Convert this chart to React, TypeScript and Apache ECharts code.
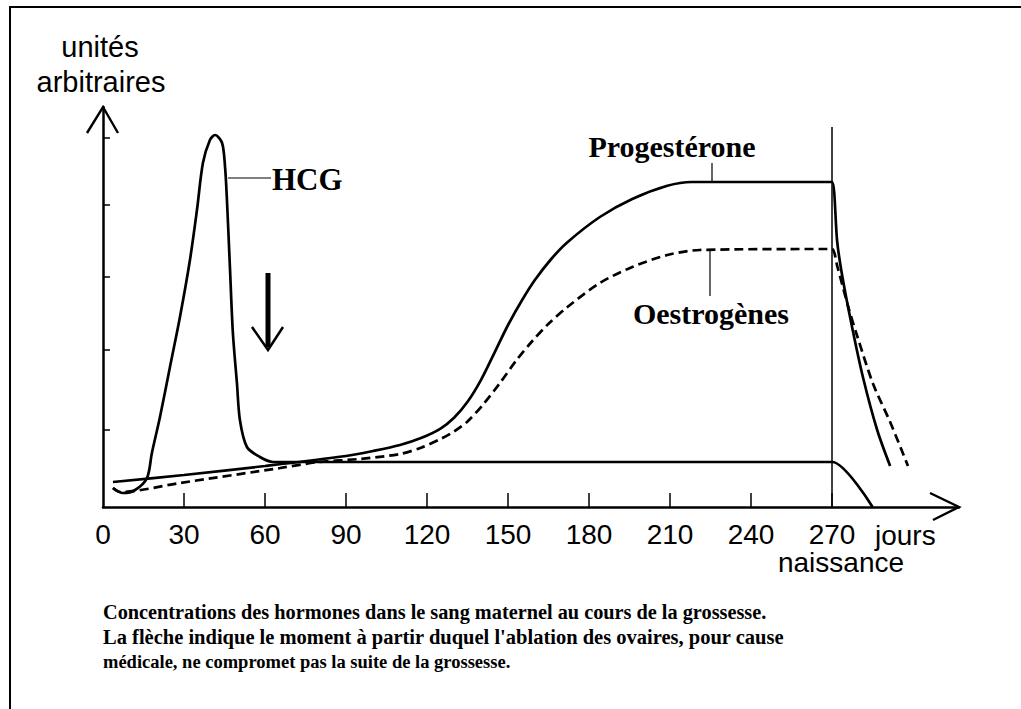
import React, { useEffect, useRef } from "react";
import * as echarts from "echarts";

// ---- data (days of pregnancy, arbitrary units 0-100) ----
const dayLabels = [0, 30, 60, 90, 120, 150, 180, 210, 240, 270];
const dayTicks = [30, 60, 90, 120, 150, 180, 210, 240, 270];
const levelTicks = [19.25, 39.25, 57.5, 75.5, 92.25];

const hcgDays = [3.7, 7.4, 11.9, 16.3, 18.1, 21.1, 24.8, 28.5, 32.2, 34.8, 37.0, 39.6, 41.5, 44.1, 45.2, 45.9, 47.0, 48.1, 49.6, 50.7, 53.3, 58.1, 63, 268, 270, 285];
const hcgLevels = [4.75, 3.5, 4.25, 7.25, 13.5, 22.5, 35, 47.5, 61.75, 74.25, 86, 91.75, 93, 91, 85, 76.75, 60, 43.5, 31, 21.75, 15, 12.5, 11.25, 11.25, 11.25, 0];

const progDays = [3.7, 30, 60, 90, 100, 110, 118, 125, 130, 135, 140, 145, 150, 155, 160, 166, 172, 184, 196, 209, 218, 268, 270, 271.9, 273.7, 277.4, 281.5, 286.7, 291.5];
const progLevels = [6.25, 8, 10.25, 12.75, 14, 15.5, 17.3, 19.6, 22.3, 26.3, 31.8, 38.6, 45.5, 51.5, 56.8, 62, 66.2, 72.5, 77, 80.3, 81.25, 81.25, 81.25, 66.3, 58, 45, 32.25, 19.25, 10.25];

const oestDays = [3.7, 6.3, 28.5, 65.6, 80, 95, 110, 118, 125, 130, 135, 141, 147, 153, 159, 165, 172, 184, 196, 209, 221, 268, 270, 272, 276, 279.3, 285.2, 291.5, 298.1];
const oestLevels = [4.75, 3.75, 6, 9.75, 11.25, 12, 13.25, 14.9, 17, 18.9, 21.4, 25.8, 31, 36.6, 41.5, 45.8, 50, 56, 60, 63, 64.25, 64.5, 64.5, 60, 50, 42.75, 30.75, 21.25, 10.25];

const birthDay = 270;
const xMax = 317;
const yMax = 100;

const captionLines = [
  "Concentrations des hormones dans le sang maternel au cours de la grossesse.",
  "La flèche indique le moment à partir duquel l'ablation des ovaires, pour cause",
  "médicale, ne compromet pas la suite de la grossesse.",
];

const zip = (xs: number[], ys: number[]) => xs.map((x, i) => [x, ys[i]]);

const SANS = "Liberation Sans, Arial, sans-serif";
const SERIF = "Liberation Serif, Times New Roman, serif";

export default function App() {
  const ref = useRef<HTMLDivElement>(null);
  useEffect(() => {
    document.body.style.margin = "0";
    if (!ref.current) return;
    const chart = echarts.init(ref.current, null, { renderer: "svg" });
    const lineBase = { type: "line", showSymbol: false, symbol: "none", smooth: 0.3, silent: true };
    chart.setOption({
      animation: false,
      backgroundColor: "#fff",
      grid: { left: 103, top: 107, bottom: 202, right: 62, containLabel: false },
      xAxis: {
        type: "value",
        min: 0,
        max: xMax,
        interval: 30,
        axisLine: { show: true, lineStyle: { color: "#000", width: 2.5 } },
        axisTick: { show: true, inside: true, length: 14, customValues: dayTicks, lineStyle: { color: "#000", width: 1.5 } },
        axisLabel: { show: true, customValues: dayLabels, color: "#000", fontSize: 28, fontFamily: SANS, margin: 13 },
        splitLine: { show: false },
      },
      yAxis: {
        type: "value",
        min: 0,
        max: yMax,
        axisLine: { show: true, lineStyle: { color: "#000", width: 2.5 } },
        axisTick: { show: true, inside: true, length: 7, customValues: levelTicks, lineStyle: { color: "#000", width: 1.5 } },
        axisLabel: { show: false },
        splitLine: { show: false },
      },
      series: [
        {
          ...lineBase,
          name: "HCG",
          data: zip(hcgDays, hcgLevels),
          lineStyle: { color: "#000", width: 2.7 },
        },
        {
          ...lineBase,
          name: "Progestérone",
          data: zip(progDays, progLevels),
          lineStyle: { color: "#000", width: 2.7 },
          markLine: {
            silent: true,
            symbol: "none",
            label: { show: false },
            lineStyle: { color: "#000", width: 1.5, type: "solid" },
            data: [[{ coord: [birthDay, 0] }, { coord: [birthDay, 95] }]],
          },
        },
        {
          ...lineBase,
          name: "Oestrogènes",
          data: zip(oestDays, oestLevels),
          lineStyle: { color: "#000", width: 2.7, type: [9, 5] },
        },
      ],
    });

    const o = chart.convertToPixel({ gridIndex: 0 }, [0, 0]) as number[];
    const yTop = chart.convertToPixel({ gridIndex: 0 }, [0, yMax]) as number[];
    const xEnd = chart.convertToPixel({ gridIndex: 0 }, [xMax, 0]) as number[];
    const ink = { stroke: "#000", lineWidth: 2.4, fill: null };

    const graphic: any[] = [
      // frame
      { type: "line", shape: { x1: 10, y1: 7, x2: 1021, y2: 7 }, style: { stroke: "#000", lineWidth: 2 } },
      { type: "line", shape: { x1: 10, y1: 6, x2: 10, y2: 709 }, style: { stroke: "#000", lineWidth: 2 } },
      // axis arrowheads
      { type: "polyline", shape: { points: [[yTop[0] - 16, yTop[1] + 26], [yTop[0], yTop[1]], [yTop[0] + 15, yTop[1] + 26]] }, style: ink },
      { type: "polyline", shape: { points: [[xEnd[0] - 29, xEnd[1] - 14], [xEnd[0], xEnd[1]], [xEnd[0] - 26, xEnd[1] + 13]] }, style: ink },
      // axis titles
      { type: "text", x: 100, y: 47, style: { text: "unités", font: `29px ${SANS}`, fill: "#000", align: "center", verticalAlign: "middle" } },
      { type: "text", x: 101, y: 82, style: { text: "arbitraires", font: `29px ${SANS}`, fill: "#000", align: "center", verticalAlign: "middle" } },
      { type: "text", x: 875, y: o[1] + 28, style: { text: "jours", font: `28px ${SANS}`, fill: "#000", align: "left", verticalAlign: "middle" } },
      { type: "text", x: 841, y: o[1] + 55, style: { text: "naissance", font: `28px ${SANS}`, fill: "#000", align: "center", verticalAlign: "middle" } },
      // HCG label
      { type: "line", shape: { x1: 228, y1: 178, x2: 271, y2: 178 }, style: { stroke: "#000", lineWidth: 1.2 } },
      { type: "text", x: 272, y: 179, style: { text: "HCG", font: `bold 31px ${SERIF}`, fill: "#000", align: "left", verticalAlign: "middle" } },
      // Progesterone label
      { type: "line", shape: { x1: 712, y1: 163, x2: 712, y2: 182 }, style: { stroke: "#000", lineWidth: 1.2 } },
      { type: "text", x: 672, y: 146, style: { text: "Progestérone", font: `bold 30px ${SERIF}`, fill: "#000", align: "center", verticalAlign: "middle" } },
      // Oestrogenes label
      { type: "line", shape: { x1: 710, y1: 251, x2: 710, y2: 296 }, style: { stroke: "#000", lineWidth: 1.2 } },
      { type: "text", x: 711, y: 313, style: { text: "Oestrogènes", font: `bold 30px ${SERIF}`, fill: "#000", align: "center", verticalAlign: "middle" } },
      // down arrow
      { type: "line", shape: { x1: 268, y1: 273, x2: 268, y2: 347 }, style: { stroke: "#000", lineWidth: 5 } },
      { type: "polyline", shape: { points: [[252, 327], [268, 350], [283, 327]] }, style: { stroke: "#000", lineWidth: 2.5, fill: null } },
    ];
    const captionSizes = [20.3, 20.5, 18.5];
    captionLines.forEach((t, i) => {
      graphic.push({
        type: "text",
        x: 103,
        y: 612 + i * 25,
        style: { text: t, font: `bold ${captionSizes[i]}px ${SERIF}`, fill: "#000", align: "left", verticalAlign: "middle" },
      });
    });
    chart.setOption({ graphic });

    return () => chart.dispose();
  }, []);
  return <div ref={ref} style={{ width: 1021, height: 709 }} />;
}
